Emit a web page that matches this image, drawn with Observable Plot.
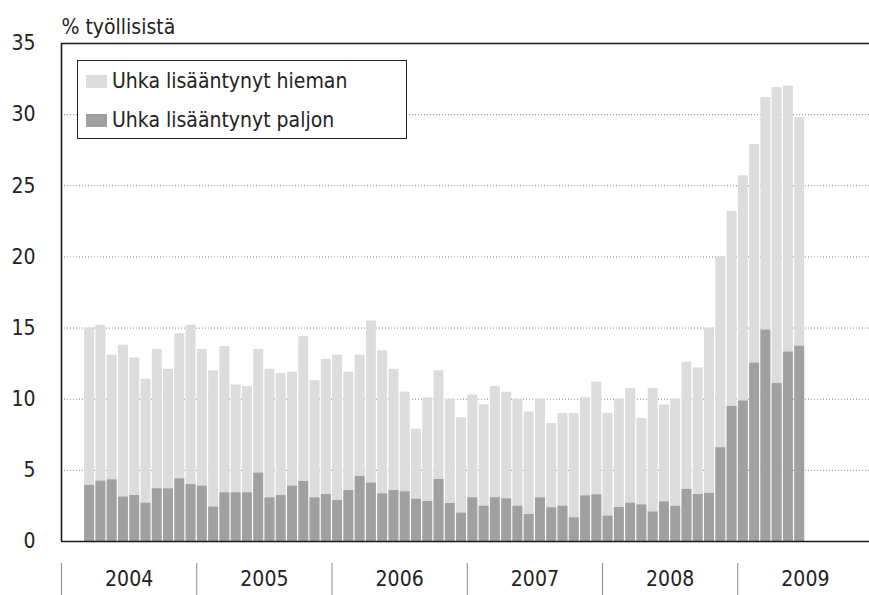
<!DOCTYPE html>
<html>
<head>
<meta charset="utf-8">
<script src="https://cdn.jsdelivr.net/npm/d3@7"></script>
<script src="https://cdn.jsdelivr.net/npm/@observablehq/plot@0.6"></script>
<style>
  body { margin: 0; background: #fff; }
  #wrap { position: relative; width: 869px; height: 595px; font-family: "Liberation Sans Narrow", "DejaVu Sans Condensed", "Noto Sans", sans-serif; color: #222; }
  #legend { position: absolute; left: 77px; top: 60px; width: 330px; height: 79px; box-sizing: border-box;
            border: 1.5px solid #222; background: #fff; }
  .row { position: absolute; left: 8px; height: 30px; display: flex; align-items: center; font-size: 21px; white-space: nowrap; }
  .sw { width: 21px; height: 13px; margin-right: 5px; display: inline-block; }
</style>
</head>
<body>
<div id="wrap">
  <div id="legend">
    <div class="row" style="top:5px"><span class="sw" id="sw1"></span><span id="lt1"></span></div>
    <div class="row" style="top:44px"><span class="sw" id="sw2"></span><span id="lt2"></span></div>
  </div>
</div>
<script>
// ---- data ----
const startYear = 2004;
const startMonth = 3; // first bar: March 2004
const yearLabels = ["2004", "2005", "2006", "2007", "2008", "2009"];
const seriesNames = ["Uhka lisääntynyt hieman", "Uhka lisääntynyt paljon"];
const yLabel = "% työllisistä";
const yTicks = [0, 5, 10, 15, 20, 25, 30, 35];

// total height of stacked bar (hieman + paljon), % of employed
const total = [
  15.0, 15.2, 13.1, 13.8, 12.9, 11.4, 13.5, 12.1, 14.6, 15.2,
  13.5, 12.0, 13.7, 11.0, 10.9, 13.5, 12.1, 11.8, 11.9, 14.4, 11.3, 12.8,
  13.1, 11.9, 13.1, 15.5, 13.4, 12.1, 10.5, 7.9, 10.1, 12.0, 10.0, 8.7,
  10.3, 9.6, 10.9, 10.5, 10.0, 9.1, 10.0, 8.3, 9.0, 9.0, 10.1, 11.2,
  9.0, 10.0, 10.75, 8.65, 10.75, 9.6, 10.0, 12.6, 12.2, 15.0, 20.0, 23.2,
  25.7, 27.9, 31.2, 31.9, 32.0, 29.8
];
// "Uhka lisääntynyt paljon"
const paljon = [
  3.94, 4.24, 4.33, 3.12, 3.23, 2.69, 3.70, 3.70, 4.40, 4.00,
  3.89, 2.41, 3.42, 3.42, 3.42, 4.80, 3.07, 3.23, 3.89, 4.22, 3.07, 3.30,
  2.88, 3.58, 4.57, 4.10, 3.35, 3.58, 3.49, 2.97, 2.81, 4.36, 2.67, 1.99,
  3.07, 2.48, 3.07, 3.00, 2.48, 1.90, 3.07, 2.37, 2.48, 1.66, 3.21, 3.28,
  1.78, 2.39, 2.69, 2.57, 2.07, 2.78, 2.47, 3.66, 3.30, 3.38, 6.59, 9.49,
  9.87, 12.53, 14.86, 11.10, 13.31, 13.72
];

const LIGHT = "#dcdcdc";
const DARK = "#a0a0a0";
const FONT = '"Liberation Sans Narrow", "DejaVu Sans Condensed", "Noto Sans", sans-serif';

const offset = startMonth - 1;
const data = total.map((t, i) => ({m0: i + offset, m1: i + offset + 1, total: t, paljon: paljon[i]}));
const nMonths = yearLabels.length * 12;
const yearBounds = d3.range(0, nMonths + 1, 12);
const yearMids = yearLabels.map((_, i) => i * 12 + 6);

const chart = Plot.plot({
  width: 869,
  height: 595,
  marginLeft: 61,
  marginRight: -3.5,
  marginTop: 43,
  marginBottom: 54,
  style: {fontFamily: FONT, fontSize: "21px", color: "#222", background: "#fff", overflow: "visible"},
  x: {domain: [0, nMonths], axis: null},
  y: {domain: [0, 35], axis: null},
  marks: [
    Plot.ruleY(yTicks.slice(1, -1), {stroke: "#888", strokeDasharray: "1,2"}),
    Plot.rect(data, {x1: "m0", x2: "m1", y1: 0, y2: "total", fill: LIGHT, insetLeft: 0.6, insetRight: 0.7}),
    Plot.rect(data, {x1: "m0", x2: "m1", y1: 0, y2: "paljon", fill: DARK, insetLeft: 0.6, insetRight: 0.7}),
    Plot.ruleY([0], {stroke: "#1a1a1a", strokeWidth: 1.6}),
    Plot.ruleY([35], {stroke: "#1a1a1a", strokeWidth: 1.6}),
    Plot.ruleX([0], {stroke: "#1a1a1a", strokeWidth: 1.6}),
    Plot.axisY(yTicks, {tickSize: 0, tickPadding: 26, fontSize: 21, label: null}),
    Plot.axisX(yearBounds, {tickSize: 32, fill: "none", dy: 22, stroke: "#888", label: null}),
    Plot.axisX(yearMids, {tickSize: 0, tickPadding: 30, fontSize: 21, label: null,
      tickFormat: d => yearLabels[(d - 6) / 12]}),
    Plot.text([yLabel], {frameAnchor: "top-left", textAnchor: "start", lineAnchor: "bottom", dy: -10, fontSize: 21, fill: "#222"})
  ]
});

document.getElementById("wrap").prepend(chart);
document.getElementById("sw1").style.background = LIGHT;
document.getElementById("sw2").style.background = DARK;
document.getElementById("lt1").textContent = seriesNames[0];
document.getElementById("lt2").textContent = seriesNames[1];
</script>
</body>
</html>
